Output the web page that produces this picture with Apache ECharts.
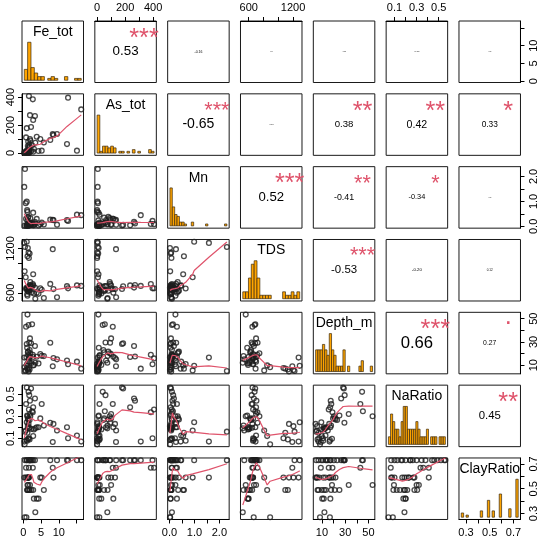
<!DOCTYPE html>
<html><head><meta charset="utf-8">
<script src="https://cdn.jsdelivr.net/npm/echarts@6/dist/echarts.min.js"></script>
<style>html,body{margin:0;padding:0;background:#fff}#c{width:543px;height:541px}</style>
</head><body><div id="c"></div>
<script>
// ---------------- data (one value per sample, 50 samples) ----------------
const varNames = ['Fe_tot','As_tot','Mn','TDS','Depth_m','NaRatio','ClayRatio'];
const Fe_tot = [0.5,0.3,1.0,0.7,1.5,1.8,1.2,1.6,8.3,0.4, 2.8,1.1,15.1,16.3,12.3,12.6,7.6,8.5,9.5,5.2, 4.8,3.8,3.3,2.8,1.9,1.6,2.7,2.2,1.0,1.7, 1.5,2.5,0.8,1.9,1.2,1.3,2.0,1.4,1.8,1.1, 4.3,3.4,3.0,2.3,1.5,1.7,1.3,0.9,1.4,5.8];
const As_tot = [5,4,3,6,2,8,1,0,135,0, 10,0,17,312,64,396,93,128,136,17, 100,116,264,236,271,407,384,186,178,60, 40,55,112,100,9,50,90,80,45,12, 15,73,30,14,13,7,11,16,19,75];
const Mn = [2.30,1.58,0.99,0.93,0.07,0.05,0.58,0.08,0.26,0.03, 0.55,0.65,0.47,0.45,0.25,0.22,0.27,0.25,0.07,0.15, 0.09,0.30,0.18,0.05,0.12,0.09,0.10,0.06,0.04,0.15, 0.10,0.14,0.30,0.06,0.24,0.35,0.33,0.38,0.10,0.05, 0.04,0.10,0.05,0.08,0.03,0.06,0.02,0.02,0.11,0.08];
const TDS = [1220,1275,1290,810,1145,1130,1095,1070,1190,890, 850,658,700,693,690,660,720,650,540,640, 660,600,670,700,705,660,718,688,652,640, 680,690,650,700,560,620,745,628,633,580, 586,520,592,604,615,647,1205,668,672,530];
const Depth_m = [5.0,16.5,9.4,5.5,4.5,6.2,7.0,7.6,9.0,8.3, 9.8,11.0,13.0,7.0,14.0,10.8,29.3,16.2,15.0,18.0, 19.5,17.2,26.5,17.0,17.5,15.8,19.0,28.8,28.2,29.5, 44.5,45.2,43.0,33.0,53.5,21.0,20.3,21.6,23.0,25.0, 11.5,12.1,10.2,11.8,12.8,13.2,5.8,16.8,18.6,17.8];
const NaRatio = [0.16,0.07,0.245,0.17,0.23,0.09,0.15,0.10,0.066,0.045, 0.12,0.078,0.125,0.07,0.20,0.10,0.24,0.23,0.17,0.41, 0.28,0.20,0.46,0.38,0.44,0.36,0.335,0.55,0.56,0.49, 0.52,0.345,0.41,0.32,0.30,0.28,0.30,0.27,0.265,0.305, 0.20,0.19,0.18,0.185,0.19,0.195,0.21,0.085,0.095,0.215];
const ClayRatio = [0.73,0.59,0.73,0.59,0.59,0.49,0.49,0.59,0.67,0.27, 0.49,0.59,0.73,0.73,0.73,0.73,0.73,0.59,0.73,0.59, 0.59,0.42,0.73,0.73,0.73,0.67,0.67,0.73,0.73,0.73, 0.73,0.73,0.67,0.53,0.53,0.49,0.73,0.59,0.73,0.49, 0.42,0.31,0.42,0.49,0.59,0.49,0.59,0.27,0.53,0.49];

// correlations shown in the upper panels (row by row, columns to the right of the diagonal)
const corrValues = [
  [0.53, -0.16, -0.06, -0.08, 0.10, -0.07],
  [-0.65, -0.10, 0.38, 0.42, 0.33],
  [0.52, -0.41, -0.34, -0.07],
  [-0.53, -0.20, 0.12],
  [0.66, 0.27],
  [0.45]
];
const corrStars = [
  ['***', '', '', '', '', ''],
  ['***', '', '**', '**', '*'],
  ['***', '**', '*', ''],
  ['***', '', ''],
  ['***', '.'],
  ['**']
];

// axis ticks and tick labels per variable
const feTicks = [0,5,10,15], feTickLabels = ['0','5','10'];
const asTicks = [0,100,200,300,400], asTickLabels = ['0','200','400'];
const mnTicks = [0,0.5,1,1.5,2], mnTickLabels = ['0.0','1.0','2.0'];
const tdsTicks = [600,800,1000,1200], tdsTickLabels = ['600','1200'];
const depthTicks = [10,20,30,40,50], depthTickLabels = ['10','30','50'];
const naTicks = [0.1,0.2,0.3,0.4,0.5], naTickLabels = ['0.1','0.3','0.5'];
const clayTicks = [0.3,0.4,0.5,0.6,0.7], clayTickLabels = ['0.3','0.5','0.7'];

// histogram breaks per variable
const histStart = [0, 0, 0, 500, 4, 0.04, 0.26];
const histWidth = [1, 20, 0.1, 40, 2, 0.02, 0.02];
const histEnd   = [17, 420, 2.4, 1300, 54, 0.58, 0.74];

// ---------------- layout / style ----------------
const X0 = 22, Y0 = 21, STEP = 72.83, W = 61.5;
const FONT = '"Liberation Sans", Arial, Helvetica, sans-serif';
const RED = '#DF536B';

const dataVars = [Fe_tot, As_tot, Mn, TDS, Depth_m, NaRatio, ClayRatio];
const tickSets = [feTicks, asTicks, mnTicks, tdsTicks, depthTicks, naTicks, clayTicks];
const labelSets = [feTickLabels, asTickLabels, mnTickLabels, tdsTickLabels, depthTickLabels, naTickLabels, clayTickLabels];
const NV = dataVars.length;

function padRange(arr) {
  const mn = Math.min(...arr), mx = Math.max(...arr), d = mx - mn;
  return [mn - 0.04 * d, mx + 0.04 * d];
}
const ranges = dataVars.map(padRange);

function histogram(arr, v) {
  const s = histStart[v], w = histWidth[v];
  const nb = Math.round((histEnd[v] - s) / w);
  const counts = new Array(nb).fill(0);
  arr.forEach(x => {
    let k = Math.floor((x - s) / w + 1e-9);
    if (k >= nb) k = nb - 1; if (k < 0) k = 0;
    counts[k]++;
  });
  return counts.map((c, k) => [s + k * w, s + (k + 1) * w, c]).filter(d => d[2] > 0);
}

function lowess(x, y, f, iter) {
  const n = x.length;
  const ord = x.map((_, i) => i).sort((a, b) => x[a] - x[b]);
  const xs = ord.map(i => x[i]), ys = ord.map(i => y[i]);
  const ns = Math.max(2, Math.min(n, Math.floor(f * n + 1e-7)));
  const rw = new Array(n).fill(1), fit = new Array(n).fill(0), w = new Array(n).fill(0);
  const range = xs[n - 1] - xs[0];
  function lowest(xv, nleft, nright, userw) {
    const h = Math.max(xv - xs[nleft], xs[nright] - xv);
    const h9 = 0.999 * h, h1 = 0.001 * h;
    let a = 0, j = nleft;
    while (j < n) {
      w[j] = 0;
      const r = Math.abs(xs[j] - xv);
      if (r <= h9) {
        w[j] = r <= h1 ? 1 : Math.pow(1 - Math.pow(r / h, 3), 3);
        if (userw) w[j] *= rw[j];
        a += w[j];
      } else if (xs[j] > xv) break;
      j++;
    }
    const nrt = j - 1;
    if (a <= 0) return null;
    for (let k = nleft; k <= nrt; k++) w[k] /= a;
    if (h > 0) {
      let xm = 0;
      for (let k = nleft; k <= nrt; k++) xm += w[k] * xs[k];
      let b = xv - xm, c = 0;
      for (let k = nleft; k <= nrt; k++) c += w[k] * (xs[k] - xm) * (xs[k] - xm);
      if (Math.sqrt(c) > 0.001 * range) {
        b /= c;
        for (let k = nleft; k <= nrt; k++) w[k] *= (b * (xs[k] - xm) + 1);
      }
    }
    let s = 0;
    for (let k = nleft; k <= nrt; k++) s += w[k] * ys[k];
    return s;
  }
  for (let it = 0; it <= iter; it++) {
    let nleft = 0, nright = ns - 1;
    for (let i = 0; i < n; i++) {
      while (nright < n - 1) {
        const d1 = xs[i] - xs[nleft], d2 = xs[nright + 1] - xs[i];
        if (d1 <= d2) break;
        nleft++; nright++;
      }
      const v = lowest(xs[i], nleft, nright, it > 0);
      fit[i] = v === null ? ys[i] : v;
    }
    if (it === iter) break;
    const res = ys.map((yy, i) => yy - fit[i]);
    const absr = res.map(Math.abs).sort((a, b) => a - b);
    const m1 = Math.floor(n / 2);
    const cmad = n % 2 === 0 ? 3 * (absr[m1 - 1] + absr[m1]) : 6 * absr[m1];
    if (cmad < 1e-7 * (absr.reduce((s, v) => s + v, 0) / n)) break;
    const c9 = 0.999 * cmad, c1 = 0.001 * cmad;
    for (let i = 0; i < n; i++) {
      const r = Math.abs(res[i]);
      rw[i] = r <= c1 ? 1 : (r > c9 ? 0 : Math.pow(1 - (r / cmad) * (r / cmad), 2));
    }
  }
  return xs.map((xx, i) => [xx, fit[i]]);
}

const mctx = document.createElement('canvas').getContext('2d');
mctx.font = '100px ' + FONT;
function emWidth(t) { return mctx.measureText(t).width / 100; }

function makeAxis(gridIndex, range, show, position, v, isY) {
  const labels = labelSets[v];
  return {
    gridIndex, type: 'value', min: range[0], max: range[1], position, show,
    axisLine: { show, onZero: false, lineStyle: { color: '#000', width: 1 } },
    axisTick: { show, inside: false, length: 4, customValues: tickSets[v], lineStyle: { color: '#000', width: 1 } },
    axisLabel: {
      show, customValues: labels.map(Number),
      formatter: val => { const s = labels.find(l => Math.abs(Number(l) - val) < 1e-9); return s === undefined ? '' : s; },
      margin: isY ? (position === 'left' ? 6 : 8) : 8,
      rotate: isY ? 90 : 0, fontSize: 11, fontFamily: FONT, color: '#000'
    },
    splitLine: { show: false }
  };
}

const grids = [], xAxes = [], yAxes = [], series = [], graphics = [];
const extraY = [];

for (let r = 0; r < NV; r++) {
  for (let c = 0; c < NV; c++) {
    const gi = r * NV + c;
    const left = X0 + c * STEP, top = Y0 + r * STEP;
    grids.push({ left, top, width: W, height: W, show: true, borderColor: '#1a1a1a', borderWidth: 1, backgroundColor: 'transparent' });
    const showTop = r === 0 && c % 2 === 1, showBottom = r === NV - 1 && c % 2 === 0;
    const showLeft = c === 0 && r % 2 === 1, showRight = c === NV - 1 && r % 2 === 0;
    if (r === c) {
      const bins = histogram(dataVars[c], c);
      const M = Math.max(...bins.map(b => b[2]));
      const hs = histStart[c], he = histEnd[c], hd = he - hs;
      xAxes.push(makeAxis(gi, [hs - 0.04 * hd, he + 0.04 * hd], showTop || showBottom, showTop ? 'top' : 'bottom', c, false));
      yAxes.push({ gridIndex: gi, type: 'value', min: -0.06 * M, max: 1.56 * M, show: false, splitLine: { show: false } });
      if (showRight) extraY.push(makeAxis(gi, ranges[r], true, 'right', r, true));
      series.push({
        type: 'custom', xAxisIndex: gi, yAxisIndex: gi, silent: true, data: bins,
        renderItem: (params, api) => {
          const p0 = api.coord([api.value(0), 0]);
          const p1 = api.coord([api.value(1), api.value(2)]);
          return { type: 'rect', shape: { x: p0[0], y: p1[1], width: p1[0] - p0[0], height: p0[1] - p1[1] },
                   style: { fill: '#FFA500', stroke: '#3b2a10', lineWidth: 0.7 } };
        }
      });
      graphics.push({ type: 'text', x: left + W / 2, y: top + 11, silent: true,
        style: { text: varNames[c], fontSize: 14, fontFamily: FONT, fill: '#000', textAlign: 'center', textVerticalAlign: 'middle', align: 'center', verticalAlign: 'middle' } });
    } else {
      xAxes.push(makeAxis(gi, ranges[c], showTop || showBottom, showTop ? 'top' : 'bottom', c, false));
      yAxes.push(makeAxis(gi, ranges[r], showLeft || showRight, showLeft ? 'left' : 'right', r, true));
      if (r > c) {
        const pts = dataVars[c].map((xv, i) => [xv, dataVars[r][i]]);
        series.push({
          type: 'scatter', xAxisIndex: gi, yAxisIndex: gi, data: pts, silent: true,
          symbol: 'circle', symbolSize: 4.8,
          itemStyle: { color: 'rgba(0,0,0,0)', borderColor: '#1e1e1e', borderWidth: 1.3 }
        });
        series.push({
          type: 'line', xAxisIndex: gi, yAxisIndex: gi, silent: true, showSymbol: false, symbol: 'none',
          data: lowess(dataVars[c], dataVars[r], 2 / 3, 3),
          lineStyle: { color: RED, width: 1.2 }, z: 3
        });
      } else {
        const rv = corrValues[r][c - r - 1], st = corrStars[r][c - r - 1];
        const txt = rv.toFixed(2);
        const base = 0.8 * W / emWidth(txt);
        const fsT = base * Math.abs(rv);
        graphics.push({ type: 'text', x: left + W / 2, y: top + W / 2, silent: true,
          style: { text: txt, fontSize: fsT, fontFamily: FONT, fill: '#000', textAlign: 'center', textVerticalAlign: 'middle', align: 'center', verticalAlign: 'middle' } });
        if (st) {
          const shift = st === '.' ? -0.3 * base : 0.22 * base;
          graphics.push({ type: 'text', x: left + 0.8 * W, y: top + 0.2 * W + shift, silent: true,
            style: { text: st, fontSize: base, fontFamily: FONT, fill: RED, textAlign: 'center', textVerticalAlign: 'middle', align: 'center', verticalAlign: 'middle' } });
        }
      }
    }
  }
}
extraY.forEach(a => yAxes.push(a));

const chart = echarts.init(document.getElementById('c'), null, { renderer: 'canvas' });
chart.setOption({
  animation: false,
  backgroundColor: '#fff',
  grid: grids, xAxis: xAxes, yAxis: yAxes, series,
  graphic: { elements: graphics }
});
</script></body></html>
